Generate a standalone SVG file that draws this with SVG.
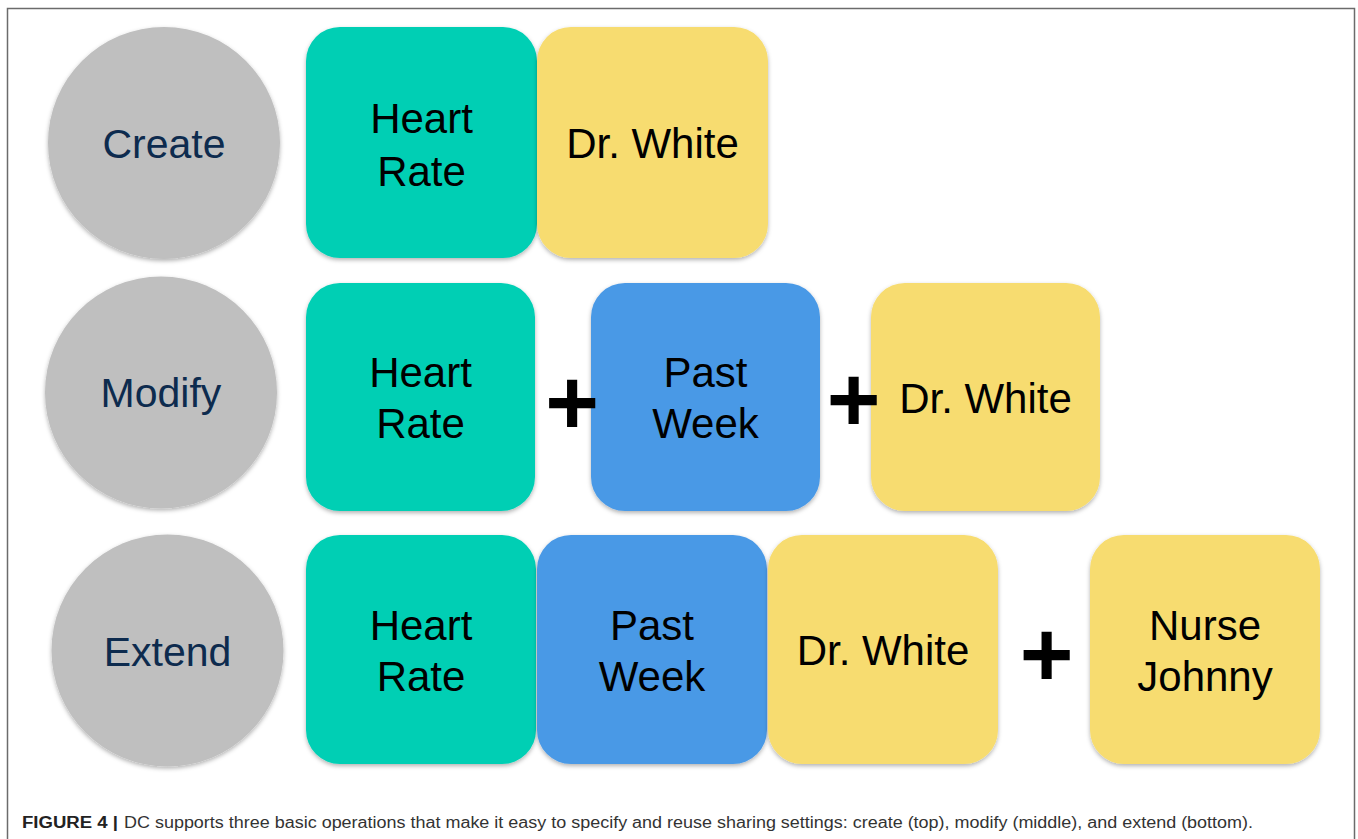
<svg xmlns="http://www.w3.org/2000/svg" width="1358" height="839" viewBox="0 0 1358 839">
  <defs>
    <filter id="shadow" x="-10%" y="-10%" width="120%" height="125%">
      <feDropShadow dx="0" dy="2" stdDeviation="2" flood-color="#000" flood-opacity="0.3"/>
    </filter>
  </defs>
  <style>
    .op { fill: #bfbfbf; filter: url(#shadow); }
    .op-label { font-family: "Liberation Sans", Arial, sans-serif; font-size: 41px; fill: #0d2b4e; text-anchor: middle; }
    .tile { filter: url(#shadow); }
    .data { fill: #00cfb4; }
    .time { fill: #4a99e6; }
    .who { fill: #f7dc6f; }
    .tile-label { font-family: "Liberation Sans", Arial, sans-serif; font-size: 42px; fill: #000; text-anchor: middle; }
    .plus { font-family: "Liberation Sans", Arial, sans-serif; font-size: 92px; font-weight: bold; fill: #000; text-anchor: middle; }
    .cap-bold { font-family: "Liberation Sans", Arial, sans-serif; font-size: 16px; font-weight: bold; fill: #222; }
    .cap { font-family: "Liberation Sans", Arial, sans-serif; font-size: 16px; fill: #333; }
  </style>

  <rect x="0" y="0" width="1358" height="839" fill="#fff"/>
  <!-- figure frame -->
  <rect x="7.5" y="8.5" width="1347" height="850" fill="none" stroke="#6b6b6b" stroke-width="1.5"/>

  <!-- Row 1: create -->
  <g id="op-create">
    <circle class="op" cx="164" cy="143" r="116"/>
    <text class="op-label" x="164" y="158">Create</text>
  </g>
  <g id="create-heart-rate">
    <rect class="tile data" x="306" y="27" width="231" height="231" rx="34"/>
    <text class="tile-label" x="421.5" y="133">Heart</text>
    <text class="tile-label" x="421.5" y="186">Rate</text>
  </g>
  <g id="create-dr-white">
    <rect class="tile who" x="537" y="27" width="231" height="231" rx="34"/>
    <text class="tile-label" x="652.5" y="158">Dr. White</text>
  </g>

  <!-- Row 2: modify -->
  <g id="op-modify">
    <circle class="op" cx="161" cy="392.5" r="116"/>
    <text class="op-label" x="161" y="407">Modify</text>
  </g>
  <g id="modify-heart-rate">
    <rect class="tile data" x="306" y="283" width="229" height="228" rx="34"/>
    <text class="tile-label" x="420.5" y="387">Heart</text>
    <text class="tile-label" x="420.5" y="438">Rate</text>
  </g>
  <g id="modify-past-week">
    <rect class="tile time" x="591" y="283" width="229" height="228" rx="34"/>
    <text class="tile-label" x="705.5" y="387">Past</text>
    <text class="tile-label" x="705.5" y="438">Week</text>
  </g>
  <g id="modify-dr-white">
    <rect class="tile who" x="871" y="283" width="229" height="228" rx="34"/>
    <text class="tile-label" x="985.5" y="413">Dr. White</text>
  </g>

  <!-- Row 3: extend -->
  <g id="op-extend">
    <circle class="op" cx="167.5" cy="650.5" r="116"/>
    <text class="op-label" x="167.5" y="666">Extend</text>
  </g>
  <g id="extend-heart-rate">
    <rect class="tile data" x="306" y="535" width="230" height="229" rx="34"/>
    <text class="tile-label" x="421" y="640">Heart</text>
    <text class="tile-label" x="421" y="691">Rate</text>
  </g>
  <g id="extend-past-week">
    <rect class="tile time" x="537" y="535" width="230" height="229" rx="34"/>
    <text class="tile-label" x="652" y="640">Past</text>
    <text class="tile-label" x="652" y="691">Week</text>
  </g>
  <g id="extend-dr-white">
    <rect class="tile who" x="768" y="535" width="230" height="229" rx="34"/>
    <text class="tile-label" x="883" y="665">Dr. White</text>
  </g>
  <g id="extend-nurse-johnny">
    <rect class="tile who" x="1090" y="535" width="230" height="229" rx="34"/>
    <text class="tile-label" x="1205" y="640">Nurse</text>
    <text class="tile-label" x="1205" y="691">Johnny</text>
  </g>

  <!-- combining operators -->
  <g id="operators">
    <text class="plus" x="572" y="433.5">+</text>
    <text class="plus" x="853.5" y="431">+</text>
    <text class="plus" x="1046.5" y="686">+</text>
  </g>

  <!-- caption -->
  <g id="caption">
    <text class="cap-bold" x="22" y="828" textLength="96" lengthAdjust="spacingAndGlyphs">FIGURE 4 |</text>
    <text class="cap" x="124" y="828" textLength="1129" lengthAdjust="spacingAndGlyphs">DC supports three basic operations that make it easy to specify and reuse sharing settings: create (top), modify (middle), and extend (bottom).</text>
  </g>
</svg>
